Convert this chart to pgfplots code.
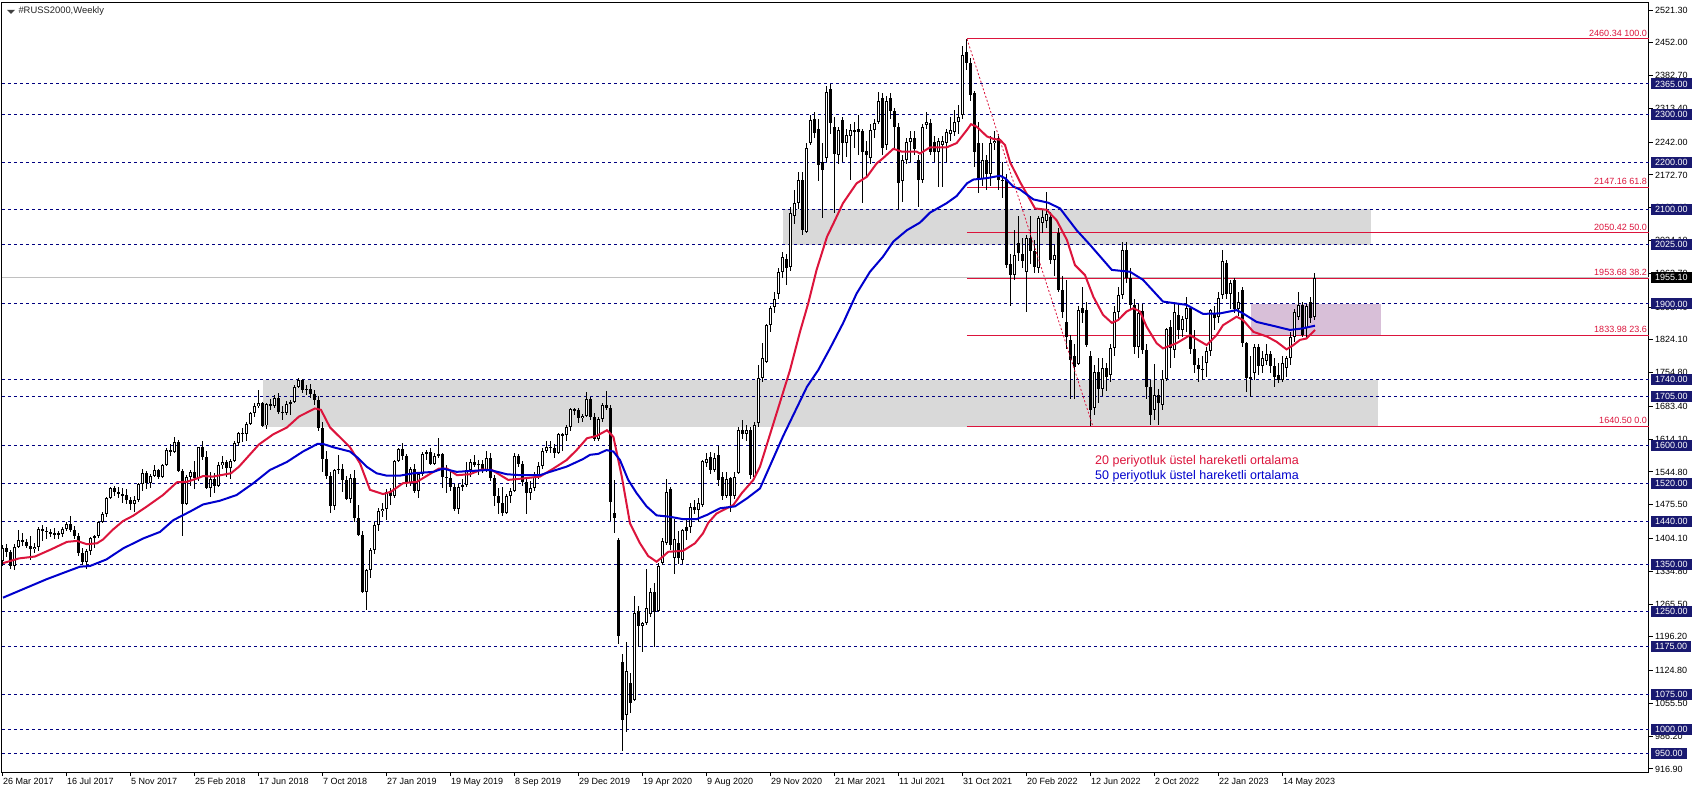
\documentclass[border=0pt]{standalone}
\usepackage{fontspec}
\setmainfont{Liberation Sans}
\usepackage{pgfplots}
\pgfplotsset{compat=1.18}
\usepackage{pgfplotstable}
\definecolor{crim}{RGB}{220,20,60}
\definecolor{mblue}{RGB}{0,0,205}
\definecolor{navyd}{RGB}{0,0,128}
\definecolor{boxblue}{RGB}{25,25,112}
\definecolor{zone}{RGB}{217,217,217}
\definecolor{thist}{RGB}{216,191,216}
\definecolor{bidgray}{RGB}{192,192,192}

\pgfplotstableread{
i o h l c
0 1357 1390 1345 1385
1 1385 1393 1365 1376
2 1376 1380 1340 1345
3 1345 1392 1337 1387
4 1387 1422 1385 1400
5 1400 1416 1388 1397
6 1397 1404 1383 1388
7 1388 1409 1358 1382
8 1382 1394 1373 1387
9 1387 1428 1378 1424
10 1424 1432 1398 1421
11 1421 1428 1404 1418
12 1418 1425 1407 1414
13 1414 1427 1402 1415
14 1415 1420 1402 1413
15 1413 1428 1408 1425
16 1425 1440 1420 1435
17 1435 1452 1418 1422
18 1422 1430 1402 1410
19 1410 1415 1368 1374
20 1374 1384 1349 1355
21 1355 1382 1340 1378
22 1378 1408 1370 1405
23 1405 1412 1385 1409
24 1409 1442 1405 1440
25 1440 1460 1436 1455
26 1455 1492 1450 1490
27 1490 1513 1487 1510
28 1510 1515 1495 1502
29 1502 1512 1490 1498
30 1498 1510 1480 1496
31 1496 1508 1478 1485
32 1485 1492 1465 1477
33 1477 1493 1461 1485
34 1485 1522 1482 1519
35 1519 1550 1505 1543
36 1543 1546 1508 1522
37 1522 1540 1510 1536
38 1536 1560 1534 1548
39 1548 1552 1530 1535
40 1535 1562 1533 1560
41 1560 1596 1557 1591
42 1591 1603 1578 1586
43 1586 1618 1585 1608
44 1608 1612 1545 1547
45 1547 1550 1410 1478
46 1478 1538 1475 1534
47 1534 1548 1515 1545
48 1545 1567 1508 1532
49 1532 1598 1525 1597
50 1597 1610 1570 1576
51 1576 1590 1508 1510
52 1510 1545 1492 1529
53 1529 1542 1500 1515
54 1515 1566 1512 1560
55 1560 1578 1552 1565
56 1565 1570 1535 1553
57 1553 1573 1530 1567
58 1567 1610 1565 1607
59 1607 1630 1600 1627
60 1627 1637 1608 1626
61 1626 1650 1610 1647
62 1647 1672 1645 1670
63 1670 1690 1662 1684
64 1684 1719 1680 1690
65 1690 1692 1640 1643
66 1643 1690 1636 1688
67 1688 1700 1675 1684
68 1684 1708 1680 1701
69 1701 1712 1668 1672
70 1672 1685 1655 1669
71 1669 1695 1665 1688
72 1688 1697 1665 1692
73 1692 1728 1690 1725
74 1725 1743 1722 1740
75 1740 1742 1712 1719
76 1719 1728 1707 1721
77 1721 1730 1702 1710
78 1710 1718 1686 1696
79 1696 1706 1632 1637
80 1637 1650 1545 1572
81 1572 1590 1530 1537
82 1537 1545 1458 1472
83 1472 1552 1465 1549
84 1549 1580 1540 1551
85 1551 1562 1502 1528
86 1528 1536 1485 1488
87 1488 1540 1480 1533
88 1533 1548 1440 1448
89 1448 1475 1410 1411
90 1411 1420 1288 1292
91 1292 1340 1252 1337
92 1337 1385 1320 1380
93 1380 1440 1372 1433
94 1433 1468 1420 1462
95 1462 1480 1450 1467
96 1467 1508 1444 1502
97 1502 1510 1475 1493
98 1493 1570 1490 1568
99 1568 1596 1565 1593
100 1593 1605 1570 1578
101 1578 1582 1512 1522
102 1522 1555 1515 1551
103 1551 1562 1500 1505
104 1505 1545 1490 1540
105 1540 1586 1536 1583
106 1583 1592 1570 1586
107 1586 1596 1560 1562
108 1562 1585 1560 1578
109 1578 1616 1575 1582
110 1582 1585 1510 1535
111 1535 1560 1500 1532
112 1532 1545 1505 1513
113 1513 1520 1462 1466
114 1466 1520 1455 1514
115 1514 1530 1505 1518
116 1518 1565 1512 1549
117 1549 1572 1535 1566
118 1566 1580 1555 1560
119 1560 1570 1538 1562
120 1562 1570 1542 1547
121 1547 1590 1545 1575
122 1575 1585 1525 1533
123 1533 1538 1473 1495
124 1495 1510 1455 1479
125 1479 1512 1452 1459
126 1459 1498 1455 1495
127 1495 1510 1480 1505
128 1505 1585 1502 1578
129 1578 1582 1555 1561
130 1561 1568 1515 1523
131 1523 1530 1456 1500
132 1500 1525 1485 1511
133 1511 1545 1505 1535
134 1535 1565 1530 1558
135 1558 1595 1550 1589
136 1589 1610 1585 1598
137 1598 1610 1585 1596
138 1596 1604 1575 1585
139 1585 1628 1582 1624
140 1624 1628 1590 1623
141 1623 1645 1610 1640
142 1640 1680 1632 1677
143 1677 1680 1665 1675
144 1675 1680 1648 1658
145 1658 1668 1650 1664
146 1664 1714 1660 1700
147 1700 1704 1655 1662
148 1662 1670 1610 1614
149 1614 1660 1610 1657
150 1657 1690 1650 1687
151 1687 1716 1675 1679
152 1679 1687 1442 1482
153 1458 1528 1415 1448
154 1401 1405 1180 1199
155 1144 1160 955 1020
156 1030 1185 995 1123
157 1098 1120 1035 1056
158 1063 1282 1060 1246
159 1250 1262 1175 1220
160 1219 1228 1165 1226
161 1226 1340 1222 1257
162 1245 1300 1238 1290
163 1290 1310 1175 1248
164 1250 1352 1248 1345
165 1352 1405 1348 1398
166 1395 1530 1390 1503
167 1508 1512 1380 1390
168 1362 1445 1330 1404
169 1394 1420 1350 1362
170 1359 1425 1350 1422
171 1429 1445 1400 1419
172 1429 1480 1415 1471
173 1471 1485 1455 1465
174 1465 1490 1440 1480
175 1475 1570 1470 1567
176 1563 1585 1555 1572
177 1576 1588 1540 1549
178 1549 1585 1545 1574
179 1581 1600 1515 1528
180 1535 1545 1485 1493
181 1493 1545 1490 1530
182 1531 1535 1460 1493
183 1493 1545 1487 1535
184 1542 1640 1540 1633
185 1633 1655 1615 1625
186 1625 1645 1610 1633
187 1633 1640 1530 1538
188 1535 1650 1530 1644
189 1648 1770 1640 1743
190 1743 1818 1735 1785
191 1778 1858 1775 1855
192 1855 1895 1840 1891
193 1894 1925 1880 1910
194 1922 1975 1910 1968
195 1968 2010 1955 2000
196 1994 2005 1940 1975
197 1979 2105 1970 2092
198 2085 2140 2070 2113
199 2113 2178 2100 2162
200 2162 2180 2045 2056
201 2053 2240 2050 2229
202 2240 2300 2235 2289
203 2292 2305 2250 2261
204 2269 2290 2160 2194
205 2201 2240 2081 2183
206 2208 2360 2200 2349
207 2354 2364 2260 2283
208 2275 2295 2092 2218
209 2215 2275 2195 2268
210 2289 2295 2200 2240
211 2240 2270 2210 2258
212 2255 2280 2162 2268
213 2268 2285 2230 2265
214 2269 2300 2215 2264
215 2266 2270 2113 2222
216 2224 2245 2170 2215
217 2208 2280 2195 2268
218 2268 2290 2250 2282
219 2285 2349 2280 2328
220 2335 2345 2215 2229
221 2235 2340 2225 2330
222 2335 2345 2290 2307
223 2307 2315 2225 2275
224 2275 2282 2099 2155
225 2159 2215 2115 2204
226 2204 2250 2195 2243
227 2243 2265 2200 2250
228 2250 2265 2215 2228
229 2204 2215 2106 2162
230 2162 2280 2155 2275
231 2279 2305 2270 2285
232 2282 2290 2215 2222
233 2243 2255 2200 2222
234 2222 2250 2148 2245
235 2235 2255 2148 2245
236 2240 2270 2200 2264
237 2260 2295 2245 2268
238 2264 2310 2255 2285
239 2285 2320 2260 2296
240 2299 2445 2290 2426
241 2433 2460 2395 2409
242 2409 2420 2330 2342
243 2345 2350 2190 2222
244 2240 2285 2135 2165
245 2165 2240 2150 2205
246 2205 2215 2140 2175
247 2175 2255 2150 2240
248 2240 2265 2225 2245
249 2250 2260 2140 2162
250 2162 2200 2125 2160
251 2162 2175 1975 1982
252 1985 2005 1895 1962
253 1962 2056 1950 2003
254 2028 2085 1990 2007
255 2005 2040 1975 1990
256 1968 2045 1884 2039
257 2039 2085 1985 2012
258 2012 2035 1965 1979
259 1975 2085 1965 2081
260 2072 2100 2050 2084
261 2075 2137 2060 2091
262 2084 2095 1985 1993
263 1993 2025 1960 2004
264 2049 2060 1925 1929
265 1929 1960 1870 1884
266 1862 1950 1805 1831
267 1824 1835 1700 1781
268 1789 1815 1698 1767
269 1774 1895 1770 1887
270 1891 1935 1860 1880
271 1887 1905 1810 1813
272 1789 1800 1641 1676
273 1679 1770 1665 1757
274 1757 1785 1690 1720
275 1720 1785 1705 1765
276 1765 1775 1715 1745
277 1750 1815 1735 1806
278 1806 1895 1790 1884
279 1884 1935 1865 1919
280 1919 2032 1910 2014
281 2014 2030 1945 1954
282 1954 1975 1890 1898
283 1898 1910 1795 1810
284 1810 1900 1785 1880
285 1885 1900 1795 1803
286 1803 1815 1700 1725
287 1725 1740 1645 1665
288 1676 1772 1655 1707
289 1707 1720 1645 1690
290 1686 1760 1675 1742
291 1742 1850 1738 1846
292 1852 1865 1765 1807
293 1803 1900 1785 1884
294 1877 1900 1825 1845
295 1845 1875 1830 1869
296 1869 1915 1840 1891
297 1891 1895 1795 1805
298 1805 1845 1755 1771
299 1771 1785 1735 1762
300 1762 1790 1740 1761
301 1775 1810 1745 1800
302 1800 1890 1790 1887
303 1878 1895 1845 1870
304 1873 1925 1860 1912
305 1919 2015 1910 1990
306 1986 1992 1910 1920
307 1920 1950 1890 1945
308 1950 1955 1880 1890
309 1890 1925 1875 1905
310 1929 1935 1810 1817
311 1817 1820 1713 1743
312 1745 1790 1704 1742
313 1753 1815 1740 1810
314 1810 1815 1750 1768
315 1768 1800 1755 1785
316 1780 1815 1770 1795
317 1795 1800 1755 1768
318 1768 1785 1725 1745
319 1750 1775 1733 1740
320 1740 1790 1735 1775
321 1765 1790 1745 1785
322 1785 1840 1770 1830
323 1830 1890 1820 1884
324 1873 1925 1865 1898
325 1898 1905 1830 1834
326 1850 1900 1825 1895
327 1905 1915 1860 1870
328 1873 1965 1865 1955.1
}\ohlc

\tikzset{lvlbox/.style={anchor=west, fill=boxblue, text=white, inner xsep=4pt, inner ysep=0pt, minimum height=11pt, font=\fontsize{9}{10}\selectfont}}

\begin{document}
\begin{tikzpicture}[x=1pt,y=1pt]
\useasboundingbox (0,0) rectangle (1695,793);
\fill[white] (0,0) rectangle (1695,793);
\begin{axis}[
  at={(2pt,21pt)}, anchor=south west,
  scale only axis, width=1647pt, height=769pt,
  xmin=-0.25, xmax=411.5, ymin=910.43, ymax=2536.25,
  clip=false,
  axis line style={black, line width=1pt},
  tick style={black, line width=1pt},
  tick align=outside, major tick length=4pt,
  xtick pos=left, ytick pos=right, yticklabel pos=right,
  xtick={0,16,...,320},
  xticklabels={26 Mar 2017,16 Jul 2017,5 Nov 2017,25 Feb 2018,17 Jun 2018,7 Oct 2018,27 Jan 2019,19 May 2019,8 Sep 2019,29 Dec 2019,19 Apr 2020,9 Aug 2020,29 Nov 2020,21 Mar 2021,11 Jul 2021,31 Oct 2021,20 Feb 2022,12 Jun 2022,2 Oct 2022,22 Jan 2023,14 May 2023},
  xticklabel style={anchor=north west, inner sep=0pt, yshift=-2pt, font=\fontsize{9}{10}\selectfont},
  ytick={916.9,986.2,1055.5,1124.8,1196.2,1265.5,1334.8,1404.1,1475.5,1544.8,1614.1,1683.4,1754.8,1824.1,1893.4,1963.7,2034.1,2103.4,2172.7,2242,2313.4,2382.7,2452,2521.3},
  yticklabels={916.90,986.20,1055.50,1124.80,1196.20,1265.50,1334.80,1404.10,1475.50,1544.80,1614.10,1683.40,1754.80,1824.10,1893.40,1963.70,2034.10,2103.40,2172.70,2242.00,2313.40,2382.70,2452.00,2521.30},
  yticklabel style={anchor=west, inner sep=0pt, xshift=2pt, font=\fontsize{9}{10}\selectfont},
]
% zones
\addplot[fill=zone, draw=none] coordinates {(195,2025) (342,2025) (342,2100) (195,2100)} -- cycle;
\addplot[fill=zone, draw=none] coordinates {(65,1640.5) (343.7,1640.5) (343.7,1740) (65,1740)} -- cycle;
\addplot[fill=thist, draw=none] coordinates {(312,1834) (344.4,1834) (344.4,1900) (312,1900)} -- cycle;
% dashed horizontal levels
\pgfplotsinvokeforeach{2365,2300,2200,2100,2025,1900,1740,1705,1600,1520,1440,1350,1250,1175,1075,1000,950}{
  \addplot[navyd, line width=1pt, dash pattern=on 3pt off 3pt] coordinates {(-0.25,#1) (411.5,#1)};
  \coordinate (L#1) at (axis cs:411.5,#1);
}
\coordinate (Lbid) at (axis cs:411.5,1955.1);
% bid line
\addplot[bidgray, line width=1pt] coordinates {(-0.25,1955.1) (411.5,1955.1)};
% fibonacci levels
\pgfplotsinvokeforeach{2460.34,2147.16,2050.42,1953.68,1833.98,1640.5}{
  \addplot[crim, line width=1pt] coordinates {(241,#1) (411.5,#1)};
}
% wicks
\addplot[draw=none, mark=none, error bars/.cd, y dir=both, y explicit, error mark=none,
  error bar style={draw=black, solid, line width=1pt}]
  table[x=i, y expr={(\thisrow{h}+\thisrow{l})/2}, y error expr={(\thisrow{h}-\thisrow{l})/2}] {\ohlc};
% bodies
\addplot[draw=none, mark=none, error bars/.cd, y dir=both, y explicit, error mark=none,
  error bar style={draw=black, solid, line width=3pt}]
  table[x=i, y expr={(\thisrow{o}+\thisrow{c})/2}, y error expr={max(abs(\thisrow{c}-\thisrow{o})/2,0.6)}] {\ohlc};
% bull interiors
\addplot[draw=none, mark=none, restrict expr to domain={\thisrow{c}-\thisrow{o}}{4.5:100000},
  error bars/.cd, y dir=both, y explicit, error mark=none,
  error bar style={draw=white, solid, line width=1pt}]
  table[x=i, y expr={(\thisrow{o}+\thisrow{c})/2}, y error expr={abs(\thisrow{c}-\thisrow{o})/2-2.11}] {\ohlc};
% EMA 20
\addplot[crim, line width=2pt] coordinates {
(0,1352) (4,1362) (8,1366) (12,1381) (16,1397) (18.5,1399) (21,1392) (23.5,1394) (25,1402) (27.5,1423) (30,1441) (32.5,1452) (36,1472) (40,1496) (43.5,1523) (46,1524) (48.5,1531) (50,1536) (52.5,1535) (57,1542) (59,1556) (64,1603) (67.5,1624) (71,1639) (74,1662) (78,1679) (79.5,1676) (81.75,1639) (86.75,1597) (89.25,1563) (91.75,1507) (95,1498) (97,1503) (100,1521) (103.5,1524) (109,1552) (111,1552) (113.5,1538) (116.75,1540) (119.7,1550) (122.2,1549) (126.3,1528) (130,1531) (134.25,1535) (137.6,1552) (140.9,1570) (143.4,1591) (146,1616) (148.4,1621) (151,1633) (152.6,1619) (154.7,1535) (156.75,1436) (159.25,1394) (161.3,1367) (163.4,1355) (165,1366) (166.3,1376) (170,1378) (173,1394) (175,1415) (176.3,1437) (178.4,1457) (182.6,1475) (184.7,1500) (187.6,1528) (189.25,1556) (196.75,1760) (199.25,1841) (201.3,1901) (203.4,1972) (206,2042) (207.6,2070) (210,2113) (213.4,2155) (216,2169) (218.4,2197) (220,2208) (222.6,2228) (224.7,2222) (228.4,2222) (229.25,2218) (231.75,2231) (235.9,2231) (238.4,2240) (241,2268) (242,2280) (243.4,2275) (246,2254) (247.6,2249) (249.25,2247) (250.5,2236) (251.75,2200) (254.25,2158) (258,2102) (260.9,2099) (263.4,2077) (266,2035) (268,1982) (270.5,1961) (272.6,1915) (275,1877) (277.2,1860) (278.8,1866) (280.9,1884) (282.6,1891) (284.25,1884) (285.9,1852) (288.4,1817) (290,1806) (293.4,1817) (296.75,1834) (300.9,1813) (303.4,1834) (305,1855) (308.4,1873) (310,1866) (312.6,1841) (316,1831) (318.4,1820) (320.9,1804) (322.6,1813) (324.25,1824) (325.9,1827) (328,1845)};
% EMA 50
\addplot[mblue, line width=2pt] coordinates {
(0,1279) (10.9,1318) (15.9,1334) (19.25,1344.5) (21.75,1346) (25.9,1360) (30,1383) (35,1404) (39.25,1418) (42.6,1443) (46.75,1461) (50,1476) (54.25,1484) (58.4,1496) (62.6,1521) (66.75,1549) (71,1566) (75,1588) (78.6,1604) (80,1604) (82.6,1597) (86.75,1588) (88.8,1574) (90.9,1556) (93.4,1542) (95.9,1537) (99.25,1537) (102.6,1542) (107.6,1545) (110,1552) (113.4,1545) (119.25,1548) (121.75,1549) (125.9,1540) (129.25,1538) (134.25,1538) (136.75,1545) (140.9,1556) (145,1572) (146.75,1581) (148.8,1583) (150.9,1591) (152.6,1588) (154.25,1570) (156.3,1528) (158.4,1500) (160.9,1472) (163.4,1453) (166.75,1450) (170,1445) (173.4,1445) (176,1454) (179.25,1468) (183,1472) (186,1489) (189.25,1510) (195,1620) (201,1725) (203.8,1760) (206.75,1806) (210,1859) (213.4,1922) (216.75,1968) (220,2000) (222.6,2032) (226,2056) (229.25,2072) (231.75,2093) (235.9,2113) (238.4,2128) (241,2155) (242.6,2163) (246,2166) (249.25,2171) (250.5,2166) (252.6,2148) (254.25,2142) (257.6,2121) (261.3,2114) (264.25,2102) (268.4,2056) (271.75,2025) (277.2,1972) (281.75,1968) (285,1951) (290,1905) (295.9,1898) (300,1879) (304.25,1880) (308.4,1887) (310,1880) (313.4,1862) (318.4,1852) (321.75,1845) (324.7,1848) (328,1854)};
% fib diagonal
\addplot[crim, line width=0.8pt, dash pattern=on 2pt off 2pt] coordinates {(241,2460.34) (272.5,1640.5)};
% fib labels
\pgfplotsinvokeforeach{{2460.34/100.0},{2147.16/61.8},{2050.42/50.0},{1953.68/38.2},{1833.98/23.6},{1640.50/0.0}}{
}
\node[anchor=south east, inner sep=0pt, xshift=-2pt, yshift=2.5pt, text=crim, font=\fontsize{9}{10}\selectfont] at (axis cs:411.5,2460.34) {2460.34 100.0};
\node[anchor=south east, inner sep=0pt, xshift=-2pt, yshift=2.5pt, text=crim, font=\fontsize{9}{10}\selectfont] at (axis cs:411.5,2147.16) {2147.16 61.8};
\node[anchor=south east, inner sep=0pt, xshift=-2pt, yshift=2.5pt, text=crim, font=\fontsize{9}{10}\selectfont] at (axis cs:411.5,2050.42) {2050.42 50.0};
\node[anchor=south east, inner sep=0pt, xshift=-2pt, yshift=2.5pt, text=crim, font=\fontsize{9}{10}\selectfont] at (axis cs:411.5,1953.68) {1953.68 38.2};
\node[anchor=south east, inner sep=0pt, xshift=-2pt, yshift=2.5pt, text=crim, font=\fontsize{9}{10}\selectfont] at (axis cs:411.5,1833.98) {1833.98 23.6};
\node[anchor=south east, inner sep=0pt, xshift=-2pt, yshift=2.5pt, text=crim, font=\fontsize{9}{10}\selectfont] at (axis cs:411.5,1640.5) {1640.50 0.0};
\end{axis}
% level boxes on the price scale
\foreach \v in {2365,2300,2200,2100,2025,1900,1740,1705,1600,1520,1440,1350,1250,1175,1075,1000,950}{
  \node[lvlbox] at ([xshift=2pt]L\v) {\v.00};
}
\node[lvlbox, fill=black] at ([xshift=2pt]Lbid) {1955.10};
% title
\fill[black!75] (7,783) -- (15,783) -- (11,779) -- cycle;
\node[anchor=west, inner sep=0pt, text=black!85, font=\fontsize{9.4}{11}\selectfont] at (18.3,781.5) {\#RUSS2000,Weekly};
% legend texts
\node[anchor=west, inner sep=0pt, text=crim, font=\fontsize{12.5}{14}\selectfont] at (1095,331.4) {20 periyotluk üstel hareketli ortalama};
\node[anchor=west, inner sep=0pt, text=mblue, font=\fontsize{12.5}{14}\selectfont] at (1095,316.3) {50 periyotluk üstel hareketli ortalama};
\end{tikzpicture}
\end{document}
